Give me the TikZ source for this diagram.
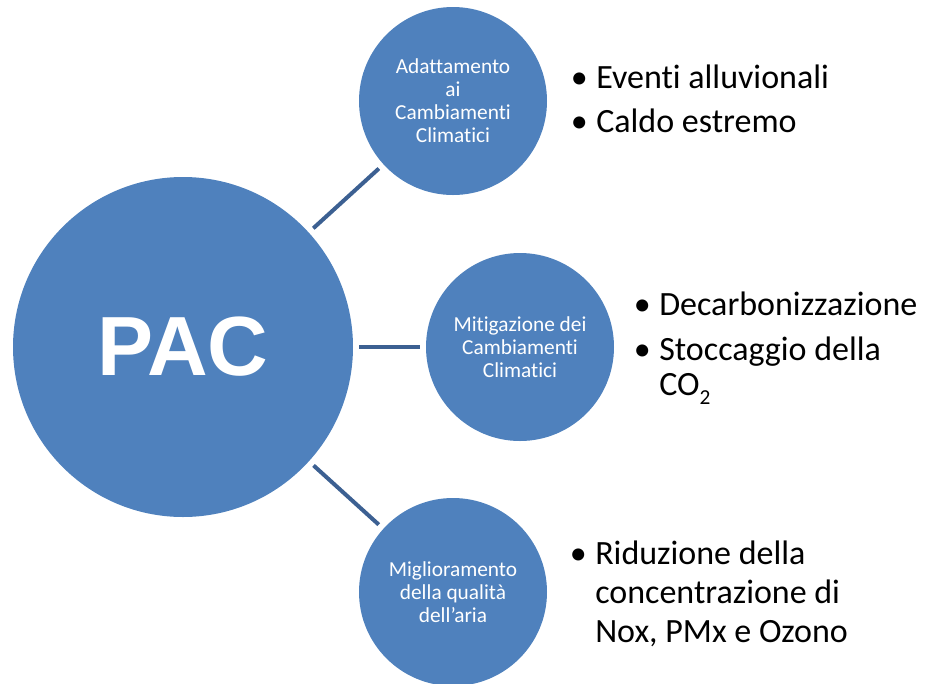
\documentclass[tikz,border=0pt]{standalone}
\usepackage{fontspec}
\setmainfont{Carlito}[Ligatures={NoCommon}]
\newfontfamily\arialfont{Liberation Sans}
\usetikzlibrary{positioning}
\definecolor{pacblue}{RGB}{79,129,189}
\definecolor{linkblue}{RGB}{60,96,146}
\newcommand{\lowidx}[1]{\raisebox{-7pt}{\fontsize{16}{16}\selectfont #1}}
\tikzset{
hub/.style={
  circle, 
  fill=pacblue, 
  minimum size=255pt, inner sep=0pt, 
  text=white, font=\arialfont\bfseries\fontsize{63}{70}\selectfont
  }, 
topic/.style={
  circle, 
  fill=pacblue, 
  minimum size=141pt, inner sep=0pt, align=center, 
  text=white, font=\fontsize{16}{17.25}\selectfont
  }, 
itemtext/.style={anchor=base west, inner sep=0pt, align=left},
dot/.style={anchor=base east, inner sep=0pt, xshift=-6pt, font=\fontsize{25.5}{30}\selectfont},
link/.style={line width=3pt, draw=linkblue, shorten <=4.5pt, shorten >=4.5pt}
}

\begin{document}
\begin{tikzpicture}[x=0.75pt, y=-0.75pt]
\useasboundingbox (0,0) rectangle (926,683);

\node[hub]		(pac)		at (183,347)		{PAC};
\node[topic]	(adapt)		at (453,101)		{Adattamento\\ai\\Cambiamenti\\Climatici};
\node[topic]	(mitig)		at (520,347)		{Mitigazione dei\\Cambiamenti\\Climatici};
\node[topic]	(air)		at (453,592)		{Miglioramento\\della qualità\\dell’aria};

\draw[link] 	(pac) 		-- 	(adapt);
\draw[link] 	(pac) 		-- 	(mitig);
\draw[link] 	(pac) 		-- 	(air);

% elenchi puntati (base = ultima riga)
\node[itemtext, font=\fontsize{25.5}{30}\selectfont]	(flood)		at (596,88)		{Eventi alluvionali};
\node[itemtext, font=\fontsize{25.5}{30}\selectfont]	(heat)		at (596,132)	{Caldo estremo};
\node[itemtext, font=\fontsize{25.5}{26.25}\selectfont]	(decarb)	at (659,315)	{Decarbonizzazione};
\node[itemtext, font=\fontsize{25.5}{26.25}\selectfont]	(storage)	at (659,395)	{Stoccaggio della\\CO\lowidx{2}};
\node[itemtext, font=\fontsize{25.5}{28.9}\selectfont]	(reduce)	at (595,642)	{Riduzione della\\concentrazione di\\Nox, PMx e Ozono};

\node[dot]	(flooddot)		at (flood.base west)					{•};
\node[dot]	(heatdot)		at (heat.base west)						{•};
\node[dot]	(decarbdot)		at (decarb.base west)					{•};
\node[dot]	(storagedot)	at ([yshift=26.25pt]storage.base west)	{•};
\node[dot]	(reducedot)		at ([yshift=57.8pt]reduce.base west)	{•};
\end{tikzpicture}
\end{document}
